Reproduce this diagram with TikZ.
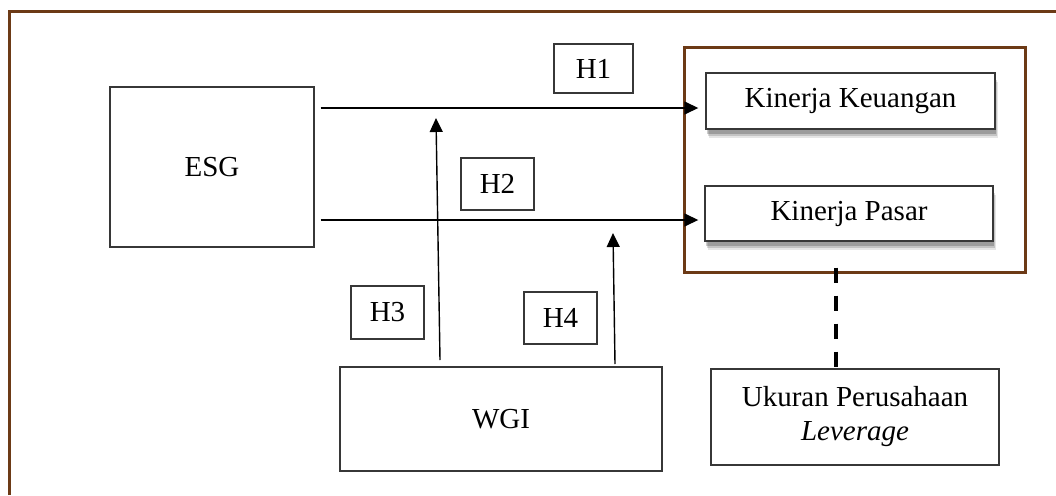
\documentclass[tikz,border=0pt]{standalone}
\usepackage{fontspec}
\setmainfont{Liberation Serif}
\usetikzlibrary{arrows.meta,shadows}
\definecolor{frame}{RGB}{108,58,22}
\definecolor{boxline}{RGB}{55,55,55}
\tikzset{
  box/.style={draw=boxline,line width=1.4pt,fill=white,inner sep=0pt,align=center,font=\fontsize{29}{34}\selectfont},
  hbox/.style={box},
  shadowbox/.style={box,
    drop shadow={shadow xshift=3pt,shadow yshift=-9pt,opacity=0.10,fill=black},
    drop shadow={shadow xshift=2pt,shadow yshift=-7pt,opacity=0.15,fill=black},
    drop shadow={shadow xshift=1pt,shadow yshift=-5pt,opacity=0.20,fill=black}},
  arr/.style={line width=1.4pt,-{Triangle[length=14pt,width=13pt]}},
  brownframe/.style={draw=frame,line width=3pt,inner sep=0pt},
  dashline/.style={line width=4pt,dash pattern=on 15pt off 13pt}
}
\begin{document}
\begin{tikzpicture}[x=1pt,y=-1pt]
\useasboundingbox (0,0) rectangle (1056,495);
% outer open frame
\draw[frame,line width=3pt] (9,495) -- (9,12) -- (1056,12);
% inner brown group box
\node[brownframe,minimum width=341pt,minimum height=224pt] (grp) at (854.5,160) {};
% nodes
\node[box,minimum width=204pt,minimum height=160pt] (esg) at (212,167) {ESG};
\node[hbox,minimum width=79pt,minimum height=49pt] (h1) at (593.5,68.5) {H1};
\node[hbox,minimum width=73pt,minimum height=52pt] (h2) at (497.5,184) {H2};
\node[hbox,minimum width=73pt,minimum height=53pt] (h3) at (387.5,312.5) {H3};
\node[hbox,minimum width=73pt,minimum height=52pt] (h4) at (560.5,318) {H4};
\node[box,minimum width=322pt,minimum height=104pt] (wgi) at (501,419) {WGI};
\node[shadowbox,minimum width=289pt,minimum height=56pt] (kk) at (850.5,101) {Kinerja Keuangan};
\node[shadowbox,minimum width=288pt,minimum height=55pt] (kp) at (849,213.5) {Kinerja Pasar};
\node[box,minimum width=288pt,minimum height=96pt] (uk) at (855,417) {Ukuran Perusahaan\\\textit{Leverage}};
% coordinates
\coordinate (y1) at (0,108);
\coordinate (y2) at (0,220);
\coordinate (h3s) at (440,360);
\coordinate (h3e) at (436,118);
\coordinate (h4s) at (615,364);
\coordinate (h4e) at (613,233);
% connectors
\draw[arr] ([xshift=6pt]esg.east |- y1) -- ([xshift=-7pt]kk.west |- y1);
\draw[arr] ([xshift=6pt]esg.east |- y2) -- ([xshift=-6pt]kp.west |- y2);
\draw[arr] (h3s) -- (h3e);
\draw[arr] (h4s) -- (h4e);
\draw[dashline] ([yshift=6pt]grp.south -| 836,0) -- ([yshift=-6pt]uk.north -| 836,0);
\end{tikzpicture}
\end{document}
